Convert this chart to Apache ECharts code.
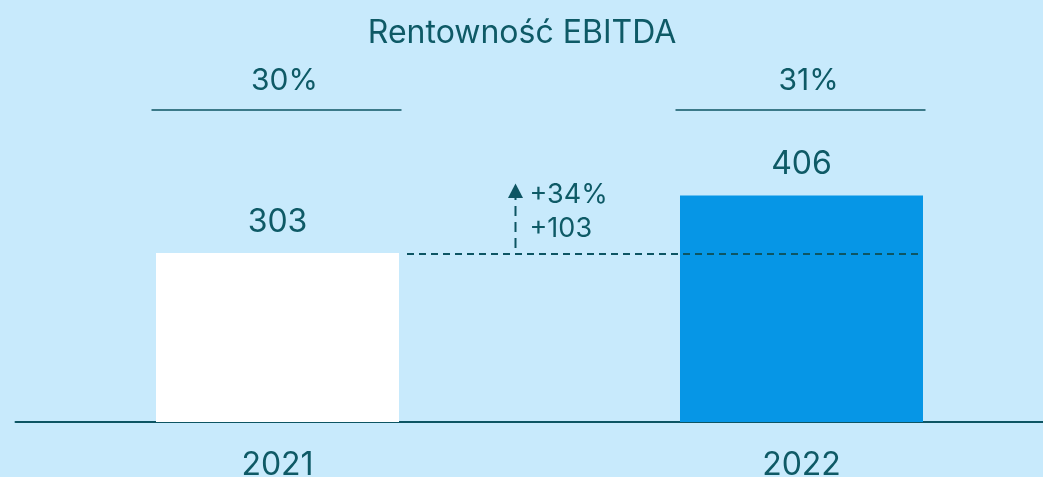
<!DOCTYPE html>
<html><head><meta charset="utf-8">
<script src="https://cdn.jsdelivr.net/npm/echarts@6/dist/echarts.min.js"></script>
<style>html,body{margin:0;padding:0;background:#C8EAFC}#c{width:1043px;height:477px}</style>
</head><body><div id="c"></div>
<script>
const chartTitle = 'Rentowność EBITDA';
const categories = ['2021', '2022'];
const ebitda = [303, 406];
const margins = ['30%', '31%'];
const changePct = '+34%';
const changeAbs = '+103';
const barColors = ['#FFFFFF', '#0696E6'];

const TXT = '#0E5A66';
const LINE = '#0D5563';
const FONT = 'Inter';

const chart = echarts.init(document.getElementById('c'));
chart.setOption({
  backgroundColor: '#C8EAFC',
  animation: false,
  title: {
    text: chartTitle, left: 517, top: 12, textAlign: 'center',
    textStyle: { fontFamily: FONT, fontSize: 32, fontWeight: 'normal', color: TXT }
  },
  grid: { left: 15.5, width: 1048, top: 31.6, bottom: 55, outerBoundsMode: 'none', containLabel: false },
  xAxis: {
    type: 'category', data: categories,
    axisLine: { lineStyle: { color: LINE, width: 2 } },
    axisTick: { show: false },
    axisLabel: { fontFamily: FONT, fontSize: 32, color: TXT, margin: 27, lineHeight: 32 }
  },
  yAxis: { type: 'value', min: 0, max: 700, show: false, splitLine: { show: false } },
  series: [{
    type: 'bar', barWidth: 243,
    data: ebitda.map((v, i) => ({ value: v, itemStyle: { color: barColors[i] } })),
    label: { show: true, position: 'top', distance: 15, fontFamily: FONT, fontSize: 32, lineHeight: 32, color: TXT }
  }]
});

function build() {
  const g = [];
  const yTopPct = 81, yLine = 110;
  categories.forEach((c, i) => {
    const cx = chart.convertToPixel({ xAxisIndex: 0 }, c);
    g.push({ type: 'text', x: cx + 7, y: yTopPct, z: 100, style: { text: margins[i], fontFamily: FONT, fontSize: 30, fill: TXT, align: 'center', verticalAlign: 'middle' } });
    g.push({ type: 'line', z: 100, shape: { x1: cx - 126, y1: yLine, x2: cx + 124, y2: yLine }, style: { stroke: LINE, lineWidth: 1.5 } });
  });
  const x0 = chart.convertToPixel({ xAxisIndex: 0 }, categories[0]);
  const x1 = chart.convertToPixel({ xAxisIndex: 0 }, categories[1]);
  const y0 = chart.convertToPixel({ yAxisIndex: 0 }, ebitda[0]);
  const y1 = chart.convertToPixel({ yAxisIndex: 0 }, ebitda[1]);
  const half = 121.5;
  g.push({ type: 'line', z: 100, shape: { x1: x0 + half + 8, y1: y0 + 1, x2: x1 + half - 4, y2: y0 + 1 }, style: { stroke: LINE, lineWidth: 2, lineDash: [7, 5] } });
  const ax = (x0 + x1) / 2 - 24;
  const tip = y1 - 12;
  g.push({ type: 'line', z: 100, shape: { x1: ax, y1: y0 - 5, x2: ax, y2: tip + 14 }, style: { stroke: LINE, lineWidth: 2, lineDash: [10, 6] } });
  g.push({ type: 'polygon', z: 100, shape: { points: [[ax, tip], [ax - 7.5, tip + 14.5], [ax + 7.5, tip + 14.5]] }, style: { fill: LINE } });
  g.push({ type: 'text', z: 100, x: ax + 14, y: tip + 11, style: { text: changePct, fontFamily: FONT, fontSize: 27, fill: TXT, verticalAlign: 'middle' } });
  g.push({ type: 'text', z: 100, x: ax + 14, y: tip + 45, style: { text: changeAbs, fontFamily: FONT, fontSize: 27, fill: TXT, verticalAlign: 'middle' } });
  chart.setOption({ graphic: g });
}
build();
</script>
</body></html>
